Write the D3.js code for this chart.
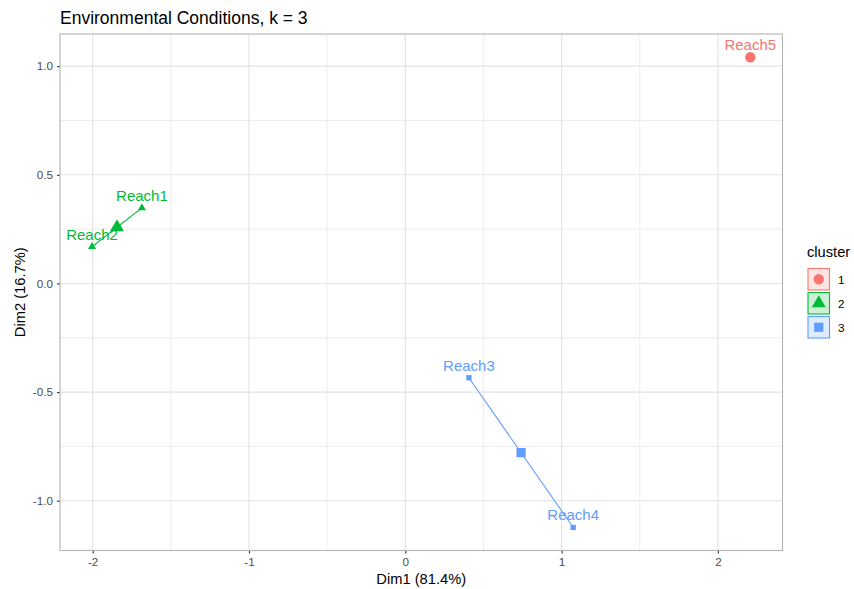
<!DOCTYPE html>
<html>
<head>
<meta charset="utf-8">
<script src="https://cdn.jsdelivr.net/npm/d3@7"></script>
<style>
  html, body { margin: 0; padding: 0; background: #fff; }
  svg { display: block; font-family: "Liberation Sans", Arial, sans-serif; }
</style>
</head>
<body>
<svg id="chart" width="854" height="589"></svg>
<script>
// Observations on the first two principal dimensions
const names   = ["Reach1", "Reach2", "Reach3", "Reach4", "Reach5"];
const dim1    = [-1.685, -2.004, 0.407, 1.074, 2.207];
const dim2    = [0.348, 0.169, -0.434, -1.123, 1.041];
const cluster = ["2", "2", "3", "3", "1"];

const clusters = ["1", "2", "3"];
const clusterColors = ["#F8766D", "#00BA38", "#619CFF"];
const clusterShapes = ["circle", "triangle", "square"];

const xTicks = [-2, -1, 0, 1, 2];
const yTicks = [-1.0, -0.5, 0.0, 0.5, 1.0];
const xMinor = [-1.5, -0.5, 0.5, 1.5];
const yMinor = [-0.75, -0.25, 0.25, 0.75];

const title = "Environmental Conditions, k = 3";
const xTitle = "Dim1 (81.4%)";
const yTitle = "Dim2 (16.7%)";

const svg = d3.select("#chart");
const panel = { left: 60, right: 782.5, top: 34, bottom: 550.5 };

const x = d3.scaleLinear().domain([-2.209, 2.413]).range([panel.left, panel.right]);
const y = d3.scaleLinear().domain([-1.229, 1.148]).range([panel.bottom, panel.top]);
const color = d3.scaleOrdinal().domain(clusters).range(clusterColors);
const shapeOf = d3.scaleOrdinal().domain(clusters).range(clusterShapes);

const symbolType = { circle: d3.symbolCircle, triangle: d3.symbolTriangle, square: d3.symbolSquare };
function sym(shape, area) { return d3.symbol().type(symbolType[shape]).size(area)(); }

const pts = names.map((n, i) => ({ name: n, x: dim1[i], y: dim2[i], cl: cluster[i] }));

// grid
const g = svg.append("g");
g.selectAll(".minx").data(xMinor).join("line")
  .attr("x1", d => x(d)).attr("x2", d => x(d)).attr("y1", panel.top).attr("y2", panel.bottom)
  .attr("stroke", "#E8E8E8").attr("stroke-width", 0.8);
g.selectAll(".miny").data(yMinor).join("line")
  .attr("y1", d => y(d)).attr("y2", d => y(d)).attr("x1", panel.left).attr("x2", panel.right)
  .attr("stroke", "#E8E8E8").attr("stroke-width", 0.8);
g.selectAll(".majx").data(xTicks).join("line")
  .attr("x1", d => x(d)).attr("x2", d => x(d)).attr("y1", panel.top).attr("y2", panel.bottom)
  .attr("stroke", "#E3E3E3").attr("stroke-width", 1.1);
g.selectAll(".majy").data(yTicks).join("line")
  .attr("y1", d => y(d)).attr("y2", d => y(d)).attr("x1", panel.left).attr("x2", panel.right)
  .attr("stroke", "#E3E3E3").attr("stroke-width", 1.1);

// axes
const xAxis = svg.append("g").attr("transform", `translate(0,${panel.bottom})`)
  .call(d3.axisBottom(x).tickValues(xTicks).tickSize(3).tickPadding(4).tickFormat(d3.format("d")));
const yAxis = svg.append("g").attr("transform", `translate(${panel.left},0)`)
  .call(d3.axisLeft(y).tickValues(yTicks).tickSize(3).tickPadding(4).tickFormat(d3.format(".1f")));
[xAxis, yAxis].forEach(a => {
  a.select(".domain").remove();
  a.selectAll(".tick line").attr("stroke", "#333333").attr("stroke-width", 1.1);
  a.selectAll(".tick text").attr("fill", "#4D4D4D").style("font-size", "11.7px")
    .style("font-family", "'Liberation Sans', Arial, sans-serif");
});
xAxis.selectAll(".tick text").text(d => d3.format("d")(d).replace("−", "-"));
yAxis.selectAll(".tick text").text(d => d3.format(".1f")(d).replace("−", "-"));

// cluster hulls (two-point clusters collapse into segments)
const byCluster = d3.group(pts, d => d.cl);
const hullG = svg.append("g");
clusters.forEach(c => {
  const members = byCluster.get(c) || [];
  if (members.length < 2) return;
  const coords = members.map(d => [x(d.x), y(d.y)]);
  const hull = members.length >= 3 ? d3.polygonHull(coords) : coords;
  hullG.append("path")
    .attr("d", "M" + hull.map(p => p.join(",")).join("L") + "Z")
    .attr("fill", color(c)).attr("fill-opacity", 0.2)
    .attr("stroke", color(c)).attr("stroke-width", 1.1);
});

// points
svg.append("g").selectAll("path").data(pts).join("path")
  .attr("transform", d => `translate(${x(d.x)},${y(d.y)})`)
  .attr("d", d => sym(shapeOf(d.cl), 28))
  .attr("fill", d => color(d.cl));

// centroids
const centroids = clusters.map(c => {
  const m = byCluster.get(c);
  return { cl: c, x: d3.mean(m, d => d.x), y: d3.mean(m, d => d.y) };
});
svg.append("g").selectAll("path").data(centroids).join("path")
  .attr("transform", d => `translate(${x(d.x)},${y(d.y)})`)
  .attr("d", d => sym(shapeOf(d.cl), 85))
  .attr("fill", d => color(d.cl));

// labels
svg.append("g").selectAll("text").data(pts).join("text")
  .attr("x", d => x(d.x)).attr("y", d => y(d.y) - 7)
  .attr("text-anchor", "middle")
  .attr("fill", d => color(d.cl))
  .style("font-size", "15px")
  .text(d => d.name);

// panel border
svg.append("rect")
  .attr("x", panel.left).attr("y", panel.top)
  .attr("width", panel.right - panel.left).attr("height", panel.bottom - panel.top)
  .attr("fill", "none").attr("stroke", "#B3B3B3").attr("stroke-width", 1.1);

// titles
svg.append("text").attr("x", panel.left).attr("y", 23.5)
  .attr("fill", "#000").style("font-size", "17.5px").text(title);
svg.append("text").attr("x", (panel.left + panel.right) / 2).attr("y", 584)
  .attr("text-anchor", "middle").attr("fill", "#000").style("font-size", "14.7px").text(xTitle);
svg.append("text").attr("transform", `translate(25,${(panel.top + panel.bottom) / 2}) rotate(-90)`)
  .attr("text-anchor", "middle").attr("fill", "#000").style("font-size", "14.7px").text(yTitle);

// legend
const leg = svg.append("g").attr("transform", "translate(807,0)");
leg.append("text").attr("x", 0).attr("y", 257).style("font-size", "14.7px").attr("fill", "#000").text("cluster");
clusters.forEach((c, i) => {
  const top = 268.5 + i * 24;
  leg.append("rect").attr("x", 1).attr("y", top).attr("width", 21.5).attr("height", 21.5)
    .attr("fill", color(c)).attr("fill-opacity", 0.2)
    .attr("stroke", color(c)).attr("stroke-width", 1.1);
  leg.append("path").attr("transform", `translate(${1 + 10.75},${top + 10.75})`)
    .attr("d", sym(shapeOf(c), 85)).attr("fill", color(c));
  leg.append("text").attr("x", 31).attr("y", top + 15).style("font-size", "11.7px")
    .attr("fill", "#000").text(c);
});
</script>
</body>
</html>
